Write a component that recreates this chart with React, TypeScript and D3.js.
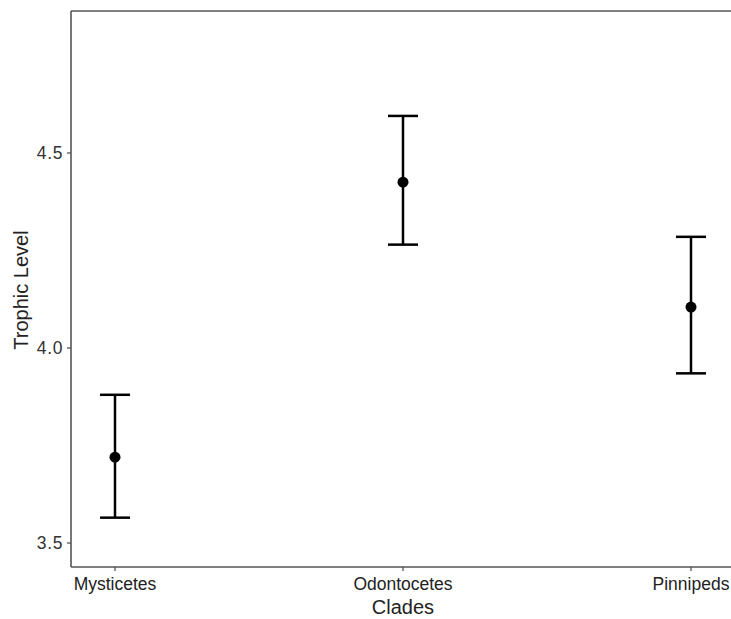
import React from "react";
import * as d3 from "d3";

const categories = ["Mysticetes", "Odontocetes", "Pinnipeds"];
const means = [3.72, 4.425, 4.105];
const lower = [3.565, 4.265, 3.935];
const upper = [3.88, 4.595, 4.285];
const yTicks = [3.5, 4.0, 4.5];

export default function App() {
  const W = 731, H = 619;
  const left = 71, top = 11, bottom = 567, right = 731;
  const y = d3.scaleLinear().domain([3.4385, 4.864]).range([bottom, top]);
  const x = d3.scalePoint<string>().domain(categories).range([115, 691]);
  const font = "'Liberation Sans', Arial, Helvetica, sans-serif";
  const axisCol = "#555";
  return (
    <svg width={W} height={H} style={{ position: "absolute", left: 0, top: 0 }}>
      <rect width={W} height={H} fill="#fff" />
      <line x1={left} x2={right} y1={top} y2={top} stroke={axisCol} strokeWidth={1.6} />
      <line x1={left} x2={left} y1={top} y2={bottom} stroke={axisCol} strokeWidth={1.6} />
      <line x1={left} x2={right} y1={bottom} y2={bottom} stroke={axisCol} strokeWidth={1.6} />
      {yTicks.map((t) => (
        <g key={t}>
          <line x1={left - 4} x2={left} y1={y(t)} y2={y(t)} stroke={axisCol} strokeWidth={1.3} />
          <text x={left - 8} y={y(t)} dy="0.36em" textAnchor="end" fontFamily={font} fontSize={17.5} letterSpacing={0.6} fill="#333">
            {t.toFixed(1)}
          </text>
        </g>
      ))}
      {categories.map((c) => (
        <g key={c}>
          <line x1={x(c)} x2={x(c)} y1={bottom} y2={bottom + 4} stroke={axisCol} strokeWidth={1.3} />
          <text x={x(c)} y={bottom + 23} textAnchor="middle" fontFamily={font} fontSize={17.5} fill="#222">
            {c}
          </text>
        </g>
      ))}
      {categories.map((c, i) => {
        const cx = x(c)!;
        const hw = 15;
        return (
          <g key={"e" + c} stroke="#000" strokeWidth={2.5}>
            <line x1={cx} x2={cx} y1={y(lower[i])} y2={y(upper[i])} />
            <line x1={cx - hw} x2={cx + hw} y1={y(upper[i])} y2={y(upper[i])} />
            <line x1={cx - hw} x2={cx + hw} y1={y(lower[i])} y2={y(lower[i])} />
            <circle cx={cx} cy={y(means[i])} r={5.5} fill="#000" stroke="none" />
          </g>
        );
      })}
      <text x={403} y={614} textAnchor="middle" fontFamily={font} fontSize={20} fill="#222">
        Clades
      </text>
      <text transform={`translate(28, 290) rotate(-90)`} textAnchor="middle" fontFamily={font} fontSize={20} fill="#222">
        Trophic Level
      </text>
    </svg>
  );
}
